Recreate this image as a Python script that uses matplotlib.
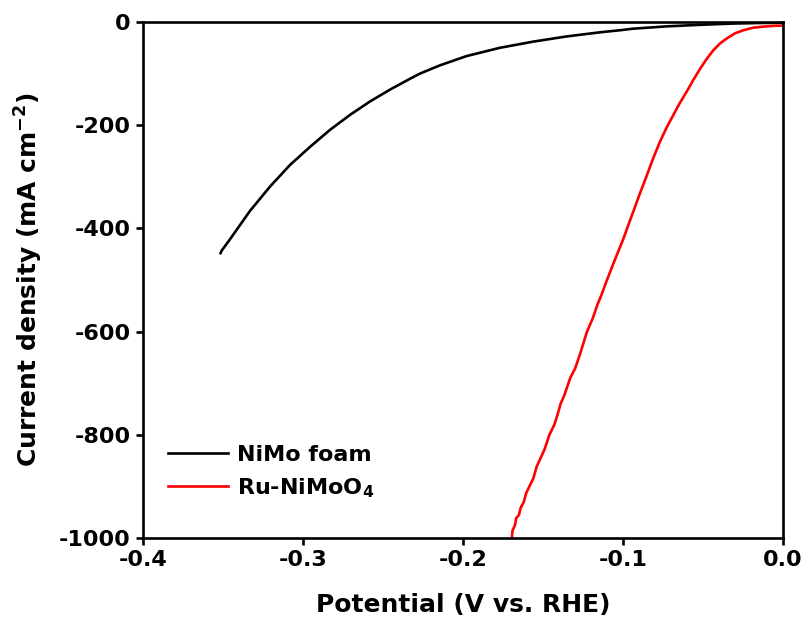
import matplotlib
matplotlib.use("Agg")
import matplotlib.pyplot as plt

plt.rcParams['font.family'] = 'DejaVu Sans'
plt.rcParams['font.weight'] = 'bold'
plt.rcParams['mathtext.default'] = 'bf'
plt.rcParams['axes.unicode_minus'] = False

# polarization curves (potential in V vs. RHE, current density in mA cm-2)
nimo_potential = [-0.3515, -0.3508, -0.3456, -0.3331, -0.3206, -0.3081, -0.2956,
                  -0.2831, -0.2706, -0.2581, -0.2456, -0.2331, -0.2269, -0.2144,
                  -0.1977, -0.1769, -0.1560, -0.1352, -0.1144, -0.1019, -0.0937,
                  -0.0729, -0.052, -0.031, -0.015, 0.0]
nimo_current = [-448, -443, -421, -366, -319, -277, -242,
                -209, -180, -154, -131, -110, -100, -84,
                -66, -50, -38, -28, -20, -16, -13,
                -8.5, -5.5, -3, -2, -1.5]

ru_potential = [-0.1694, -0.1693, -0.1690, -0.1675, -0.1668, -0.1650, -0.1640,
                -0.1620, -0.1605, -0.1585, -0.1560, -0.1540, -0.1515, -0.1490,
                -0.1460, -0.1430, -0.1410, -0.1390, -0.1365, -0.1330, -0.1300,
                -0.1270, -0.1245, -0.1225, -0.1190, -0.1160, -0.1140, -0.1100,
                -0.1060, -0.1030, -0.1000, -0.0946, -0.0900, -0.0852, -0.0810,
                -0.0769, -0.0725, -0.0685, -0.0645, -0.0602, -0.0560, -0.0519,
                -0.0478, -0.0436, -0.0395, -0.0352, -0.0300, -0.0248, -0.0185,
                -0.0123, -0.0060, 0.0]
ru_current = [-1000, -993, -985, -975, -962, -955, -942,
              -930, -913, -900, -884, -862, -845, -828,
              -800, -781, -762, -740, -722, -690, -672,
              -645, -620, -600, -575, -548, -533, -500,
              -468, -445, -422, -376, -337, -298, -263,
              -232, -203, -180, -157, -135, -112, -91,
              -72, -55, -42, -32, -22, -16, -11,
              -9, -7.5, -7]

xticks = [-0.4, -0.3, -0.2, -0.1, 0.0]
yticks = [0, -200, -400, -600, -800, -1000]

fig = plt.figure(figsize=(8.11, 6.41), dpi=100)
ax = fig.add_axes([0.1763, 0.1607, 0.7892, 0.805])

ax.plot(nimo_potential, nimo_current, color='black', lw=1.9, label='NiMo foam')
ax.plot(ru_potential, ru_current, color='#ff0000', lw=1.9, label='Ru-NiMoO$_4$')

ax.set_xlim(-0.4, 0.0)
ax.set_ylim(-1000, 0)
ax.set_xticks(xticks)
ax.set_xticklabels([f"{t:.1f}" for t in xticks])
ax.set_yticks(yticks)

for s in ax.spines.values():
    s.set_linewidth(1.9)
ax.tick_params(direction='out', length=5, width=1.9, labelsize=16, pad=4,
               top=False, right=False)

ax.set_xlabel('Potential (V vs. RHE)', fontsize=18, fontweight='bold', labelpad=16)
ax.set_ylabel('Current density (mA cm$^{-2}$)', fontsize=18, fontweight='bold', labelpad=10)

ax.legend(loc='upper left', bbox_to_anchor=(0.008, 0.219), frameon=False,
          fontsize=16, handlelength=2.7, handletextpad=0.4, labelspacing=0.5)

fig.savefig('out.png', dpi=100)
